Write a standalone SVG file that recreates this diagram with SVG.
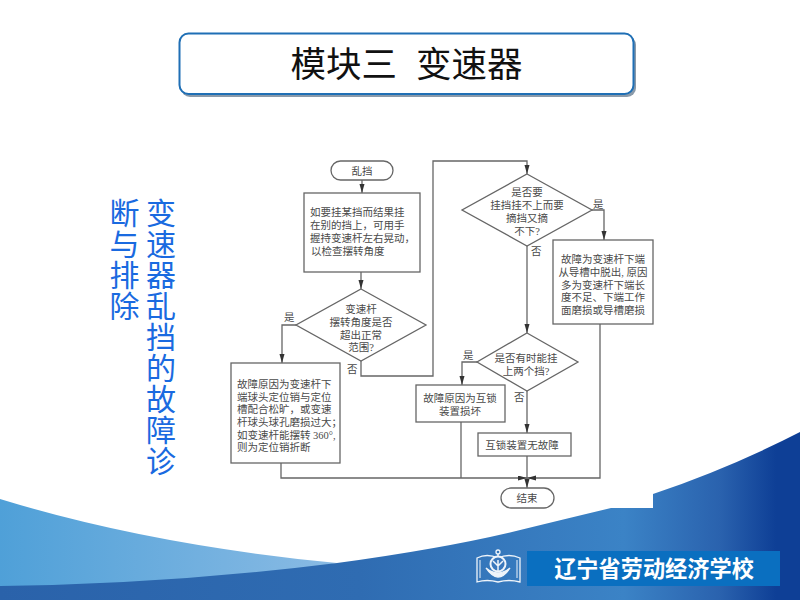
<svg xmlns="http://www.w3.org/2000/svg" width="800" height="600" viewBox="0 0 800 600">
<style>
.n{fill:#fff;stroke:#666;stroke-width:1.3}
.c{fill:none;stroke:#666;stroke-width:1.3}
text{font-family:"Noto Sans CJK SC","Liberation Sans",sans-serif}
.t{font-family:"Liberation Serif","Noto Sans CJK SC",serif;font-size:10.5px;fill:#4a4a4a}
.m{text-anchor:middle}
.v{font-size:30px;fill:#1a6ae0;writing-mode:vertical-rl;letter-spacing:1px}
</style>
<defs>
<marker id="a" markerUnits="userSpaceOnUse" markerWidth="10" markerHeight="6" refX="9" refY="2.500" orient="auto"><path d="M0 0L9 2.500L0 5Z" fill="#333"/></marker>
<linearGradient id="dk" x1="0" x2="1" y1="0" y2="0"><stop offset="0" stop-color="#2a62aa"/><stop offset=".45" stop-color="#2f6cb2"/><stop offset=".78" stop-color="#3b83c6"/><stop offset=".9" stop-color="#2a62ae"/><stop offset=".97" stop-color="#0e3f96"/><stop offset="1" stop-color="#0e3f96"/></linearGradient>
<linearGradient id="lt" x1="0" x2="1" y1="0" y2="0"><stop offset="0" stop-color="#4fa0d8"/><stop offset="1" stop-color="#8abbe4"/></linearGradient>
</defs>
<rect width="800" height="600" fill="#fff"/>
<g id="background">
<path d="M0 499Q150 545 337 563L200 590L0 590Z" fill="url(#lt)"/>
<path d="M0 586Q170 584 337 563Q440 549 512 532Q565 519 611 508L653 508L653 494Q730 468 800 432L800 600L0 600Z" fill="url(#dk)"/>
</g>
<g id="title">
<rect x="181" y="36" width="455" height="61" rx="9" fill="#8a9aaa"/>
<rect x="179.500" y="33.500" width="454" height="60.500" rx="9" fill="#fff" stroke="#1f6fb5" stroke-width="2"/>
<text x="290.500" y="77" font-size="35.500" fill="#111">模块三</text>
<text x="416" y="77" font-size="35.500" fill="#111">变速器</text>
</g>
<g id="side-title">
<text class="v" x="161" y="198">变速器乱挡的故障诊</text>
<text class="v" x="124.500" y="198">断与排除</text>
</g>
<g id="connectors">
<path class="c" d="M362 180V193" marker-end="url(#a)"/>
<path class="c" d="M361 272V289" marker-end="url(#a)"/>
<path class="c" d="M296 325H282V363" marker-end="url(#a)"/>
<path class="c" d="M361 361V376H433V161H527V174" marker-end="url(#a)"/>
<path class="c" d="M592 210H604V240" marker-end="url(#a)"/>
<path class="c" d="M527 246V333" marker-end="url(#a)"/>
<path class="c" d="M477 362H462V385" marker-end="url(#a)"/>
<path class="c" d="M527 391V433" marker-end="url(#a)"/>
<path class="c" d="M527 456V488" marker-end="url(#a)"/>
<path class="c" d="M281 463V478H527" marker-end="url(#a)"/>
<path class="c" d="M461 422V478"/>
<path class="c" d="M600 324V478H527" marker-end="url(#a)"/>
</g>
<g id="n-start"><rect class="n" x="331" y="161" width="62" height="19" rx="9.500"/><text class="t m" x="362" y="175">乱挡</text></g>
<g id="n-check"><rect class="n" x="304" y="193" width="116" height="79"/>
<text class="t" x="310" y="216">如要挂某挡而结果挂</text><text class="t" x="310" y="229">在别的挡上，可用手</text><text class="t" x="310" y="242">握持变速杆左右晃动，</text><text class="t" x="311" y="255">以检查摆转角度</text></g>
<g id="n-angle"><path class="n" d="M361 289L426 325L361 361L296 325Z"/>
<text class="t m" x="361" y="313">变速杆</text><text class="t m" x="361" y="326">摆转角度是否</text><text class="t m" x="361" y="339">超出正常</text><text class="t m" x="361" y="351">范围?</text></g>
<g id="n-cause1"><rect class="n" x="231" y="363" width="109" height="100"/>
<text class="t" x="237" y="388">故障原因为变速杆下</text><text class="t" x="237" y="401">端球头定位销与定位</text><text class="t" x="237" y="413">槽配合松旷，或变速</text><text class="t" x="237" y="426">杆球头球孔磨损过大；</text><text class="t" x="237" y="439">如变速杆能摆转 360°,</text><text class="t" x="237" y="451">则为定位销折断</text></g>
<g id="n-q2"><path class="n" d="M527 174L592 210L527 246L462 210Z"/>
<text class="t m" x="527" y="196">是否要</text><text class="t m" x="527" y="209">挂挡挂不上而要</text><text class="t m" x="527" y="222">摘挡又摘</text><text class="t m" x="527" y="235">不下?</text></g>
<g id="n-cause2"><rect class="n" x="553" y="240" width="100" height="84"/>
<text class="t m" x="603" y="263">故障为变速杆下端</text><text class="t m" x="603" y="276">从导槽中脱出, 原因</text><text class="t m" x="603" y="289">多为变速杆下端长</text><text class="t m" x="603" y="301">度不足、下端工作</text><text class="t m" x="603" y="314">面磨损或导槽磨损</text></g>
<g id="n-q3"><path class="n" d="M527 333L578 362L527 391L477 362Z"/>
<text class="t m" x="526" y="362">是否有时能挂</text><text class="t m" x="526" y="375">上两个挡?</text></g>
<g id="n-cause3"><rect class="n" x="416" y="385" width="89" height="37"/>
<text class="t m" x="460" y="402">故障原因为互锁</text><text class="t m" x="460" y="415">装置损坏</text></g>
<g id="n-ok"><rect class="n" x="478" y="433" width="93" height="23"/><text class="t m" x="522" y="449">互锁装置无故障</text></g>
<g id="n-end"><rect class="n" x="501" y="488" width="53" height="20" rx="10"/><text class="t m" x="527" y="502">结束</text></g>
<g id="labels">
<text class="t" x="284" y="321">是</text><text class="t" x="347" y="373">否</text>
<text class="t" x="593" y="208">是</text><text class="t" x="531" y="255">否</text>
<text class="t" x="463" y="359">是</text><text class="t" x="514" y="401">否</text>
</g>
<g id="footer">
<rect x="527" y="551" width="253" height="35" fill="#0a6fc0"/>
<text x="654" y="577" font-size="22.200" font-weight="700" fill="#fff" text-anchor="middle">辽宁省劳动经济学校</text>
<g id="logo" fill="none" stroke="#eef4fa" stroke-width="1.300">
<path d="M477 558Q487 553 498 558Q509 553 520 558V582Q509 579 498 582Q487 579 477 582Z"/>
<path d="M480 560V578M517 560V578" stroke-width="1"/>
<circle cx="498" cy="564" r="7.500" fill="#3a78bc" stroke-width="2"/>
<circle cx="498" cy="552" r="2"/>
<path d="M498 554V557M498 560V571M493 561L498 566L503 561" stroke-width="1.500"/>
<path d="M486 568Q498 586 510 568Q498 578 486 568Z" fill="#eef4fa"/>
</g>
</g>
</svg>
